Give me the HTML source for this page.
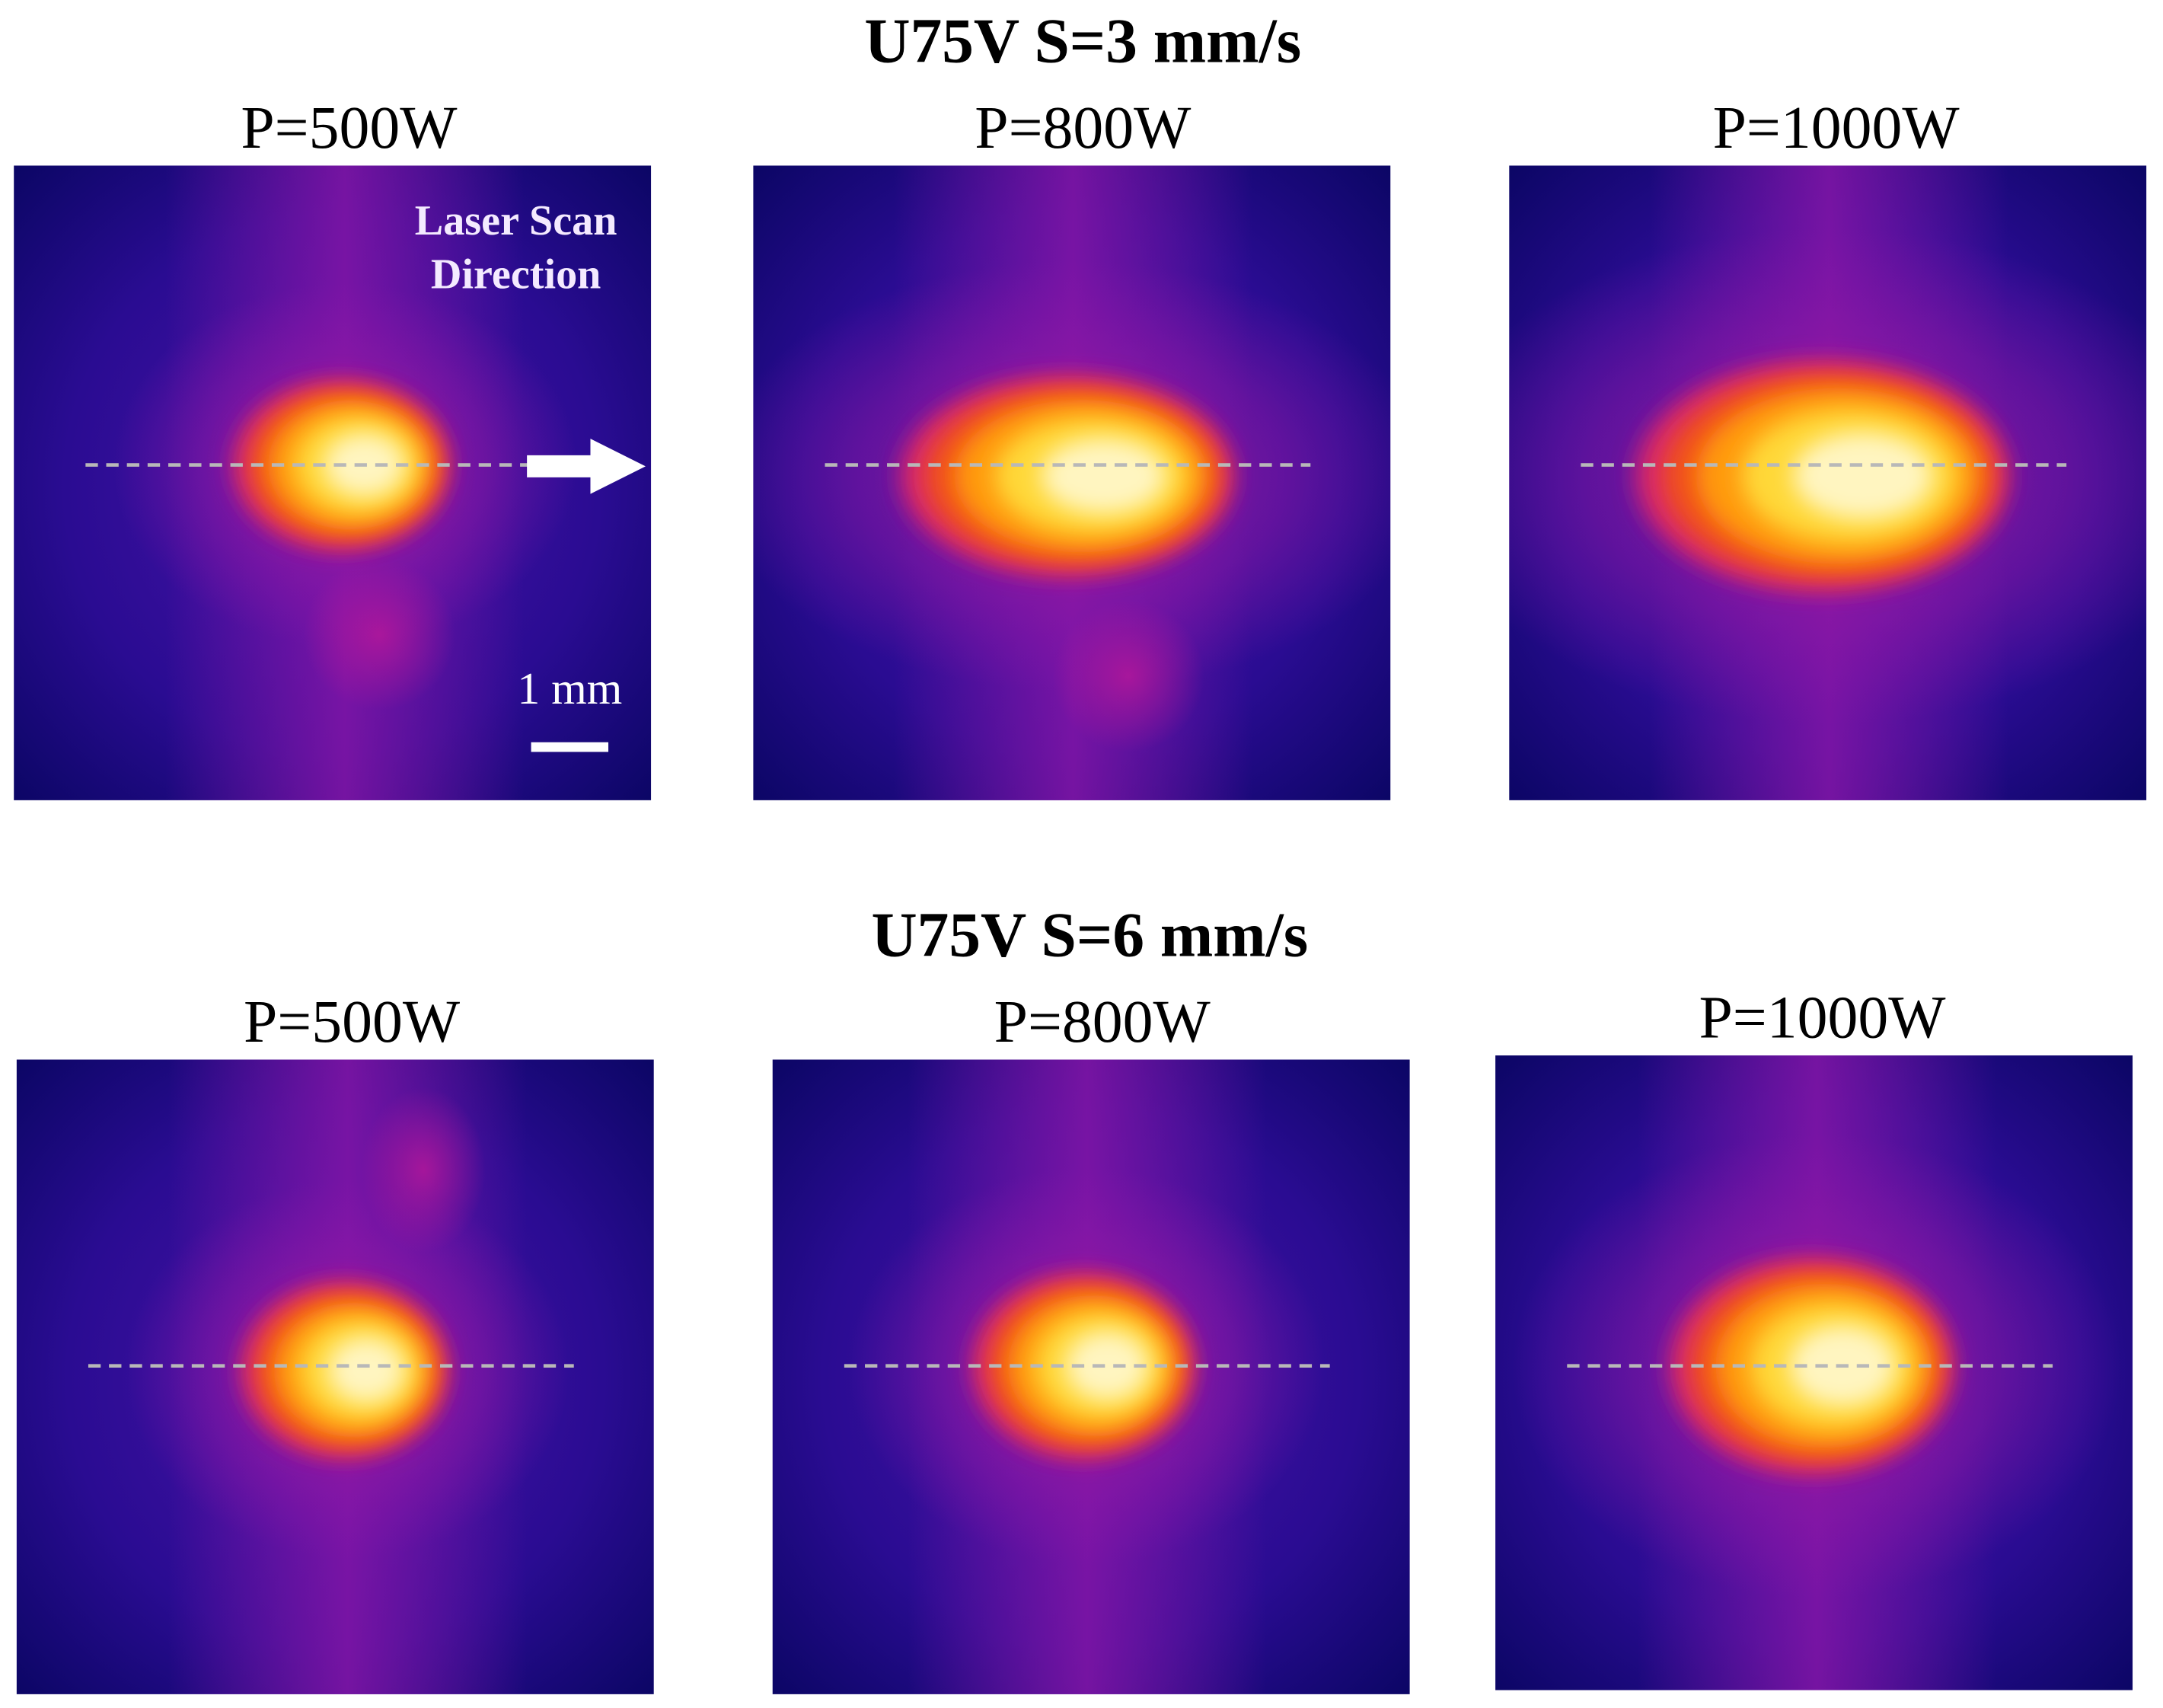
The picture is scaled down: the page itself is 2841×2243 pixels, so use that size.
<!DOCTYPE html>
<html><head><meta charset="utf-8"><style>
html,body{margin:0;padding:0;background:#fff}
svg{display:block}
text{font-family:"Liberation Serif",serif}
</style></head><body>
<svg id="fig" width="2841" height="2243" viewBox="0 0 1568 1238" preserveAspectRatio="none" xmlns="http://www.w3.org/2000/svg">
<defs>
<filter id="b8" x="-100%" y="-100%" width="300%" height="300%"><feGaussianBlur stdDeviation="8"/></filter>
<radialGradient id="bg" cx="50%" cy="50%" r="70%"><stop offset="0" stop-color="#4a12a8"/><stop offset="0.6" stop-color="#2a0c92"/><stop offset="1" stop-color="#0c0666"/></radialGradient>
<linearGradient id="band" x1="0" x2="1" y1="0" y2="0"><stop offset="0" stop-color="#8a16a8" stop-opacity="0"/><stop offset="0.5" stop-color="#8a16a8" stop-opacity="0.8"/><stop offset="1" stop-color="#8a16a8" stop-opacity="0"/></linearGradient>
<radialGradient id="halo"><stop offset="0" stop-color="#a01aa4" stop-opacity="0.9"/><stop offset="0.6" stop-color="#9018a4" stop-opacity="0.5"/><stop offset="1" stop-color="#8a16a8" stop-opacity="0"/></radialGradient>
<radialGradient id="blob"><stop offset="0" stop-color="#b8189a" stop-opacity="0.8"/><stop offset="1" stop-color="#b8189a" stop-opacity="0"/></radialGradient>
</defs>
<text x="785" y="45" text-anchor="middle" font-size="46" font-weight="bold">U75V S=3 mm/s</text>
<text x="790" y="693" text-anchor="middle" font-size="46" font-weight="bold">U75V S=6 mm/s</text>
</svg>
<script>
const powers = ["P=500W","P=800W","P=1000W","P=500W","P=800W","P=1000W"];
const spotCx = [240,232,232,240,228,233];
const spotCy = [217,225,225,225,222,225];
const spotRx = [70,108,121,67,72,92];
const spotRy = [55,65,75,57,60,70];
const panelX = [10,546,1094,12,560,1084];
const panelY = [120,120,120,768,768,765];
const lineY = [217,217,217,222,222,225];
const NS="http://www.w3.org/2000/svg";
const svg=document.getElementById('fig');
const defs=svg.querySelector('defs');
function el(t,a,p){const e=document.createElementNS(NS,t);for(const k in a)e.setAttribute(k,a[k]);(p||svg).appendChild(e);return e;}
for(let i=0;i<6;i++){
  const x=panelX[i],y=panelY[i],S=462;
  const lab=el('text',{x:x+S/2+(i%3==0?12:(i%3==1?8:6)),y:y-13,'text-anchor':'middle','font-size':44});
  lab.textContent=powers[i];
  
  
  const cp=el('clipPath',{id:'c'+i},defs);
  el('rect',{x:x,y:y,width:S,height:S-2},cp);
  const g=el('g',{'clip-path':'url(#c'+i+')'});
  
  
  el('rect',{x:x,y:y,width:S,height:S,fill:'url(#bg)'},g);
  el('rect',{x:x+spotCx[i]-130,y:y,width:260,height:S,fill:'url(#band)'},g);
  el('ellipse',{cx:x+spotCx[i],cy:y+spotCy[i],rx:spotRx[i]*2.4,ry:spotRy[i]*2.4,fill:'url(#halo)'},g);
  if(i==0||i==1) el('ellipse',{cx:x+spotCx[i]+(i==0?25:40),cy:y+(i==0?340:370),rx:55,ry:55,fill:'url(#blob)'},g);
  if(i==3) el('ellipse',{cx:x+295,cy:y+80,rx:45,ry:60,fill:'url(#blob)'},g);
  const cx=x+spotCx[i],cy=y+spotCy[i],rx=spotRx[i],ry=spotRy[i];
  const layers=[[1.12,'#d8286a'],[1.0,'#f0501e'],[0.85,'#ff9a10'],[0.65,'#ffd838'],[0.42,'#fff5c0']];
  layers.forEach(L=>el('ellipse',{cx:cx+rx*(1-L[0])*0.35,cy:cy,rx:rx*L[0],ry:ry*L[0],fill:L[1],filter:'url(#b8)'},g));
  const d=el('line',{x1:x+52,x2:x+404,y1:y+lineY[i],y2:y+lineY[i],stroke:'#b8b8b8','stroke-width':2.5,'stroke-dasharray':'9 6'});
  
  
}
const a1=el('text',{x:374,y:170,'text-anchor':'middle','font-size':31,'font-weight':'bold',fill:'#f4eaff'});a1.textContent='Laser Scan';

const a2=el('text',{x:374,y:209,'text-anchor':'middle','font-size':31,'font-weight':'bold',fill:'#f4eaff'});a2.textContent='Direction';

const ar=el('path',{d:'M382 330 L428 330 L428 318 L468 338 L428 358 L428 346 L382 346 Z',fill:'#fff'});

const sb=el('text',{x:413,y:510,'text-anchor':'middle','font-size':33,fill:'#fff'});sb.textContent='1 mm';

const sr=el('rect',{x:385,y:538,width:56,height:7,fill:'#fff'});

</script>
</body></html>
